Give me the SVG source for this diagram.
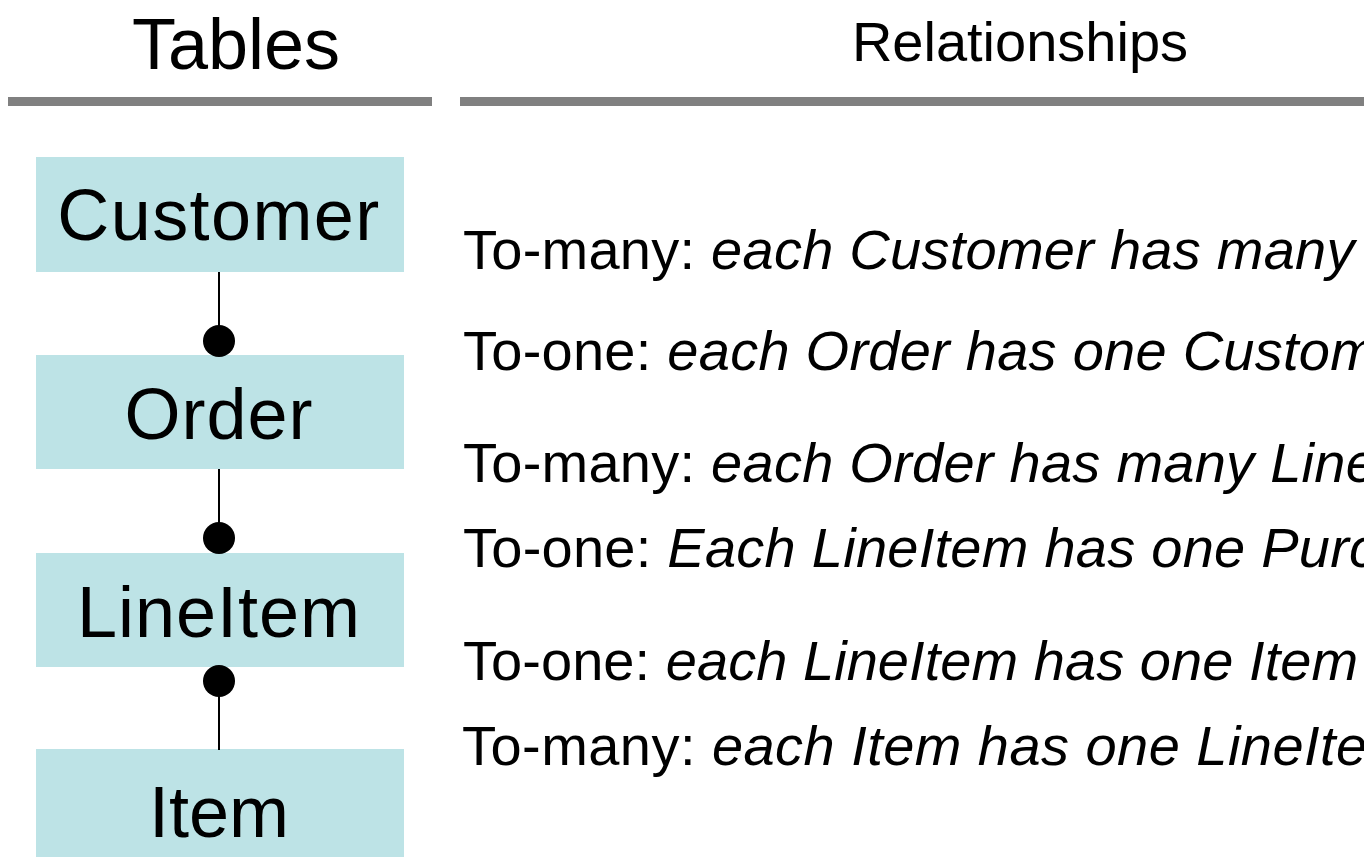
<svg xmlns="http://www.w3.org/2000/svg" width="1364" height="857" viewBox="0 0 1364 857">
  <style>
    .head { font-family: "Liberation Sans", Arial, sans-serif; fill: #000; }
    .rule { fill: #808080; }
    .table rect { fill: #bde3e6; }
    .table text { font-family: "Liberation Sans", Arial, sans-serif; font-size: 72px; letter-spacing: 1px; fill: #000; text-anchor: middle; }
    .link line { stroke: #000; stroke-width: 2; }
    .link circle { fill: #000; }
    .rel { font-family: "Liberation Sans", Arial, sans-serif; font-size: 56px; letter-spacing: 0.25px; fill: #000; }
    .rel tspan.it { font-style: italic; }
  </style>
  <rect width="1364" height="857" fill="#fff"/>

  <!-- column headings -->
  <g id="headings">
    <text class="head" x="236" y="69" font-size="72" text-anchor="middle">Tables</text>
    <rect class="rule" x="8" y="97" width="424" height="9"/>
    <text class="head" x="1020" y="61" font-size="56" text-anchor="middle">Relationships</text>
    <rect class="rule" x="460" y="97" width="904" height="9"/>
  </g>

  <!-- tables -->
  <g id="customer" class="table">
    <rect x="36" y="157" width="368" height="115"/>
    <text x="219" y="240" style="letter-spacing:1.4px">Customer</text>
  </g>
  <g id="order" class="table">
    <rect x="36" y="355" width="368" height="114"/>
    <text x="219" y="439">Order</text>
  </g>
  <g id="lineitem" class="table">
    <rect x="36" y="553" width="368" height="114"/>
    <text x="219" y="637">LineItem</text>
  </g>
  <g id="item" class="table">
    <rect x="36" y="749" width="368" height="120"/>
    <text x="219" y="837" style="letter-spacing:0">Item</text>
  </g>

  <!-- connectors: the dot marks the "many" end -->
  <g id="connectors" class="link">
    <line x1="219" y1="272" x2="219" y2="341"/>
    <circle cx="219" cy="341" r="16"/>
    <line x1="219" y1="469" x2="219" y2="538"/>
    <circle cx="219" cy="538" r="16"/>
    <line x1="219" y1="681" x2="219" y2="750"/>
    <circle cx="219" cy="681" r="16"/>
  </g>

  <!-- relationship descriptions -->
  <g id="relationships" class="rel">
    <text x="463" y="269">To-many: <tspan class="it">each Customer has many</tspan></text>
    <text x="463" y="370">To-one: <tspan class="it">each Order has one Custom</tspan></text>
    <text x="463" y="482">To-many: <tspan class="it">each Order has many Line</tspan></text>
    <text x="463" y="567">To-one: <tspan class="it">Each LineItem has one Purc</tspan></text>
    <text x="463" y="680" style="letter-spacing:0.05px">To-one: <tspan class="it">each LineItem has one Item</tspan></text>
    <text x="462" y="765" style="letter-spacing:0.45px">To-many: <tspan class="it">each Item has one LineIte</tspan></text>
  </g>
</svg>
